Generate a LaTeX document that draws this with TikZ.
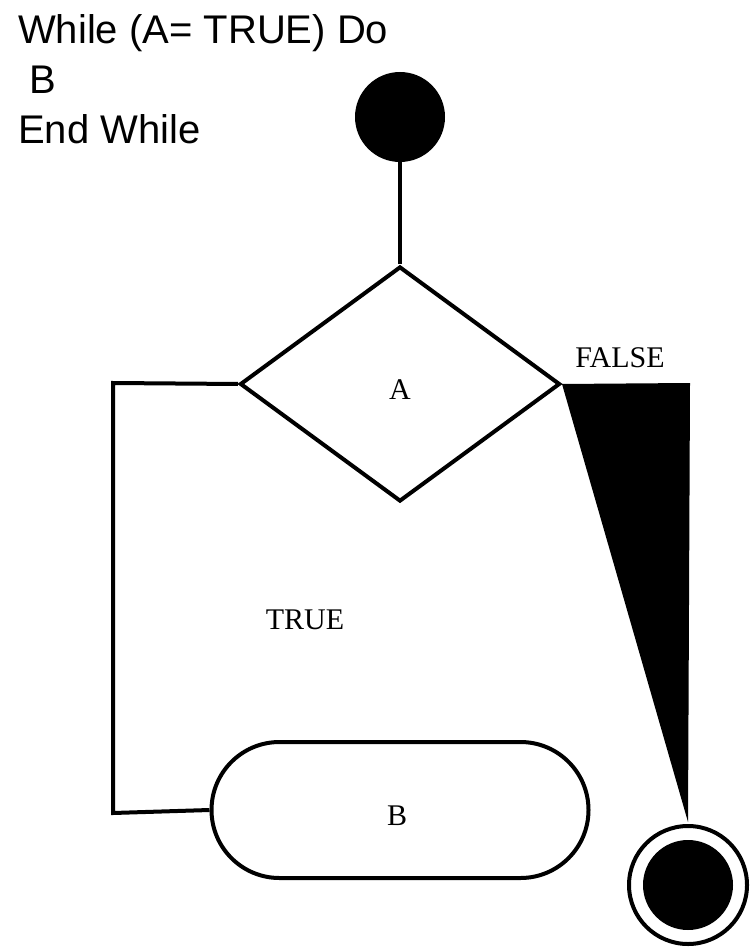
\documentclass[tikz,border=0pt]{standalone}
\usepackage{fontspec}
\setmainfont{Liberation Serif}
\newfontfamily\headfont{Liberation Sans}
\usetikzlibrary{shapes.geometric,shapes.misc}
\tikzset{ln/.style={line width=4pt,line join=miter},
 lbl/.style={font=\fontsize{30}{32}\selectfont}}
\begin{document}
\begin{tikzpicture}[x=1pt,y=-1pt]
\useasboundingbox (0,0) rectangle (750,949);
\node[anchor=north west,align=left,inner sep=0,font=\headfont\fontsize{40}{50}\selectfont] (code) at (18,14) {While (A= TRUE) Do\\\ B\\End While};
\node[circle,fill=black,minimum size=90pt,inner sep=0] (start) at (400,117) {};
\node[diamond,draw,ln,minimum width=320pt,minimum height=235pt,inner sep=0,aspect=1.36] (A) at (400,384) {};
\node[lbl] at (400,390) {A};
\node[draw,ln,rounded rectangle,minimum width=377pt,minimum height=136pt,inner sep=0] (B) at (400,810) {};
\node[lbl] at (397,816) {B};
\node[lbl] (T) at (305,620) {TRUE};
\node[lbl] (F) at (620,358) {FALSE};
\node[circle,draw,line width=4pt,minimum size=118pt,inner sep=0] (endo) at (688,885) {};
\node[circle,fill=black,minimum size=90pt,inner sep=0] (endi) at (688,885) {};
\coordinate (c1) at (113,383);
\coordinate (c2) at (113,813);
\coordinate (w1) at (690,383);
\coordinate (w2) at (688,822);
\draw[ln] (start.south) -- (A.north);
\draw[ln] (A.west) -- (c1) -- (c2) -- (B.west);
\fill (A.east) -- (w1) -- (w2) -- cycle;
\end{tikzpicture}
\end{document}
